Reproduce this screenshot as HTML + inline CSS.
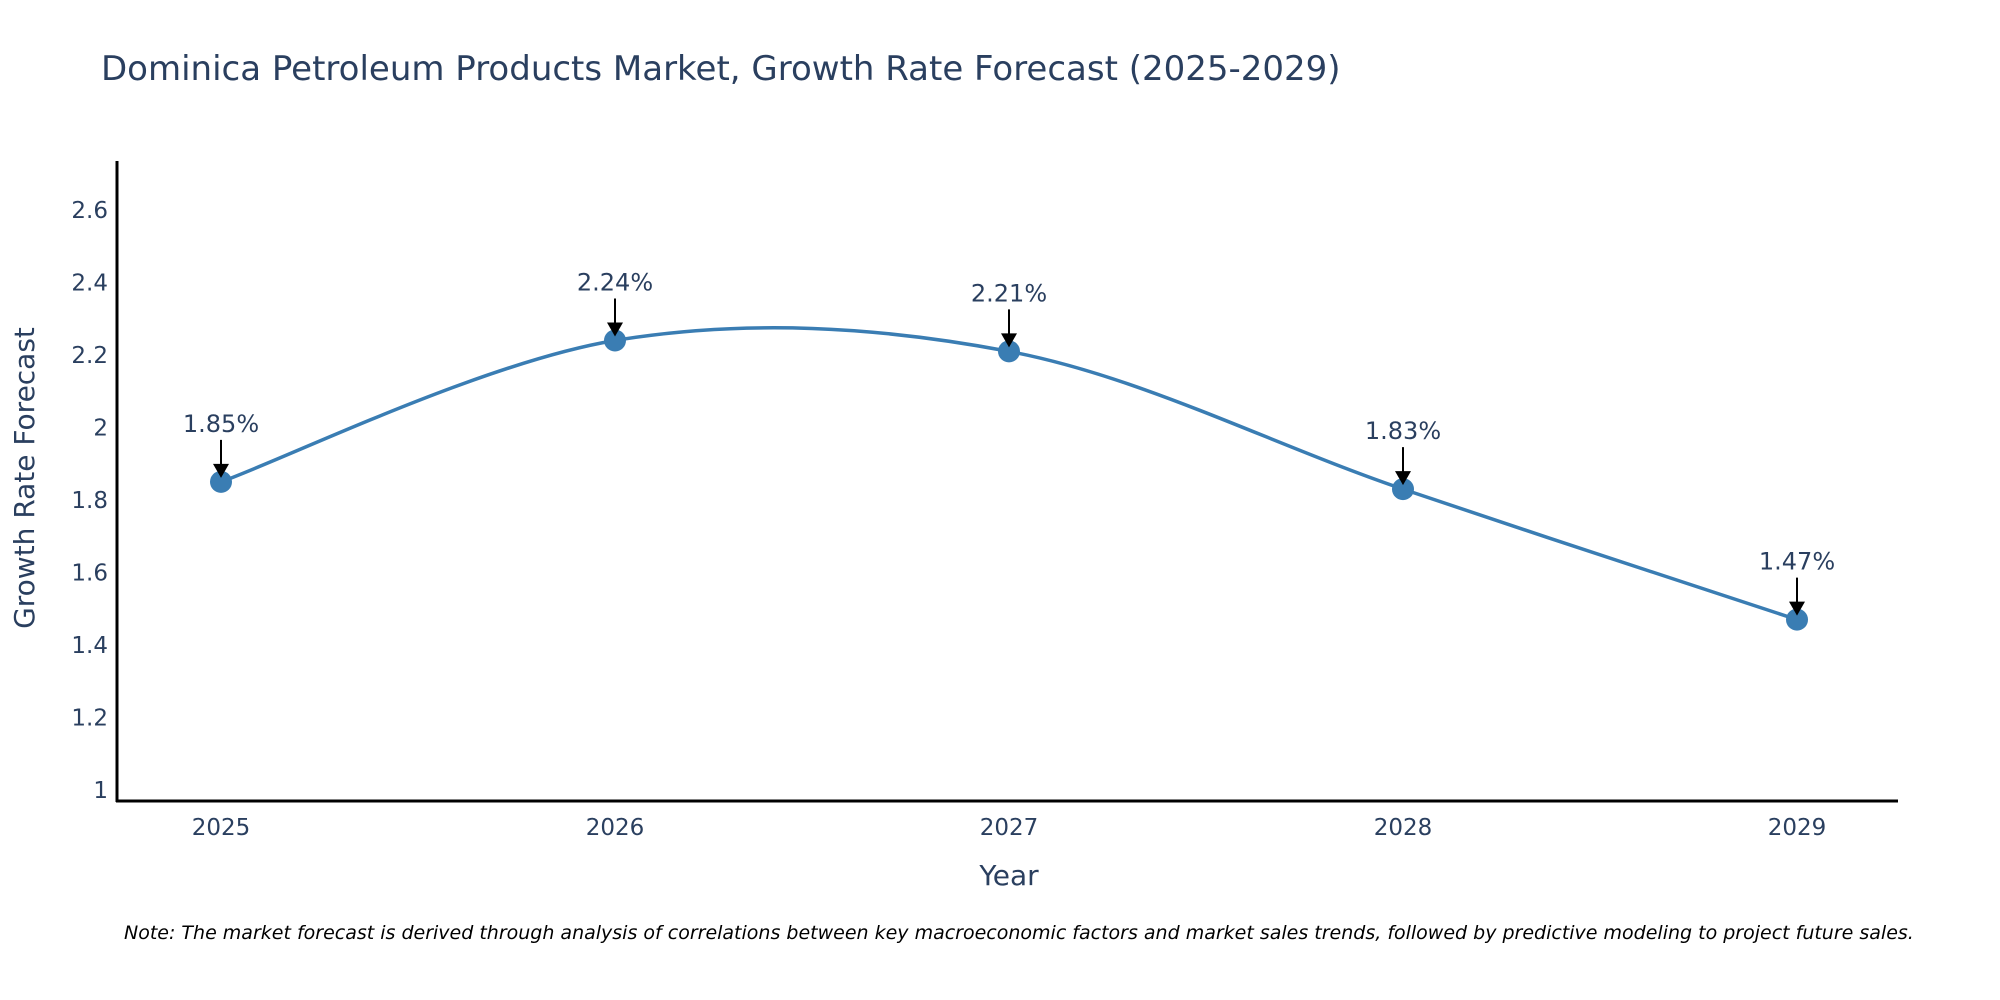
<!DOCTYPE html>
<html><head><meta charset="utf-8"><style>
body{margin:0;background:#fff;}
svg{display:block;font-family:"DejaVu Sans","Liberation Sans",sans-serif;}
</style></head><body>
<svg id="chart" width="2000" height="1000">
<text x="101" y="80" font-size="34" fill="#2a3f5f">Dominica Petroleum Products Market, Growth Rate Forecast (2025-2029)</text>
<g id="yticks"></g>
<g id="xticks"></g>
<line x1="117" y1="161" x2="117" y2="802" stroke="#000" stroke-width="3"/>
<line x1="116" y1="801" x2="1898" y2="801" stroke="#000" stroke-width="3"/>
<text transform="translate(34,478) rotate(-90)" text-anchor="middle" font-size="28" fill="#2a3f5f">Growth Rate Forecast</text>
<text x="1009" y="885" text-anchor="middle" font-size="28" fill="#2a3f5f">Year</text>
<g id="series"></g>
<text x="124" y="939" font-size="19" font-style="italic" fill="#000">Note: The market forecast is derived through analysis of correlations between key macroeconomic factors and market sales trends, followed by predictive modeling to project future sales.</text>
</svg>
<script>
const years = ["2025","2026","2027","2028","2029"];
const values = [1.85, 2.24, 2.21, 1.83, 1.47];
const labels = ["1.85%","2.24%","2.21%","1.83%","1.47%"];
const yTicks = [1,1.2,1.4,1.6,1.8,2,2.2,2.4,2.6];
const yTickLabels = ["1","1.2","1.4","1.6","1.8","2","2.2","2.4","2.6"];

const NS="http://www.w3.org/2000/svg";
const xs = i => 221 + i*394;
const ys = v => 790 - (v-1)*362.5;
function mk(tag, attrs, parent){const e=document.createElementNS(NS,tag);for(const k in attrs)e.setAttribute(k,attrs[k]);parent.appendChild(e);return e;}

const yg=document.getElementById('yticks');
yTicks.forEach((t,i)=>{
  const e=mk('text',{x:108,y:ys(t)+8,'text-anchor':'end','font-size':23,fill:'#2a3f5f'},yg);
  e.textContent=yTickLabels[i];
  
  
});
const xg=document.getElementById('xticks');
years.forEach((y,i)=>{
  const e=mk('text',{x:xs(i),y:835,'text-anchor':'middle','font-size':23,fill:'#2a3f5f'},xg);
  e.textContent=y;
  
  
});

const sg=document.getElementById('series');
const P=values.map((v,i)=>[xs(i),ys(v)]);
let d=`M${P[0][0]},${P[0][1]}`;
for(let i=0;i<P.length-1;i++){
  const p0=P[Math.max(0,i-1)],p1=P[i],p2=P[i+1],p3=P[Math.min(P.length-1,i+2)];
  const k=1/6;
  const c1=[p1[0]+(p2[0]-p0[0])*k,p1[1]+(p2[1]-p0[1])*k];
  const c2=[p2[0]-(p3[0]-p1[0])*k,p2[1]-(p3[1]-p1[1])*k];
  d+=` C${c1[0]},${c1[1]} ${c2[0]},${c2[1]} ${p2[0]},${p2[1]}`;
}
const line=mk('path',{d:d,fill:'none',stroke:'#3a7db3','stroke-width':3.5},sg);


P.forEach((p,i)=>{
  const c=mk('circle',{cx:p[0],cy:p[1],r:11,fill:'#3a7db3'},sg);
  
  
  const a=mk('line',{x1:p[0],y1:p[1]-42,x2:p[0],y2:p[1]-16,stroke:'#000','stroke-width':2},sg);
  
  
  const h=mk('polygon',{points:`${p[0]-8},${p[1]-18} ${p[0]+8},${p[1]-18} ${p[0]},${p[1]-4}`,fill:'#000'},sg);
  
  
  const t=mk('text',{x:p[0],y:p[1]-50,'text-anchor':'middle','font-size':24,fill:'#2a3f5f'},sg);
  t.textContent=labels[i];
  
  
});
</script>
</body></html>
